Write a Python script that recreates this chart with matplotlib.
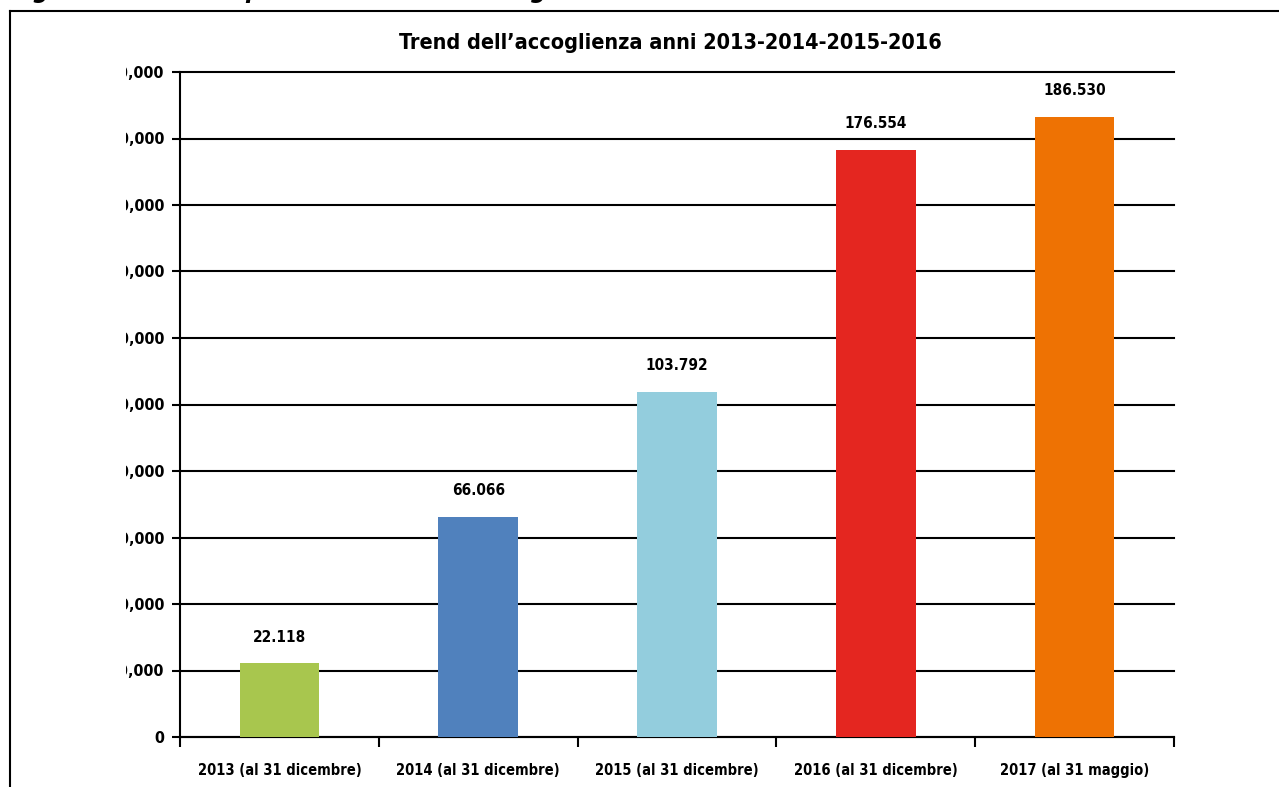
import matplotlib.pyplot as plt
from matplotlib.transforms import Bbox, TransformedBbox

plt.rcParams["font.family"] = ["DejaVu Sans"]
plt.rcParams["font.stretch"] = "condensed"
plt.rcParams["font.weight"] = "bold"

categories = ["2013 (al 31 dicembre)", "2014 (al 31 dicembre)", "2015 (al 31 dicembre)",
              "2016 (al 31 dicembre)", "2017 (al 31 maggio)"]
ospiti = [22118, 66066, 103792, 176554, 186530]
colori = ["#A8C64E", "#5081BD", "#93CDDD", "#E42620", "#EE7203"]
yticks = [0, 20000, 40000, 60000, 80000, 100000, 120000, 140000, 160000, 180000, 200000]

fig = plt.figure(figsize=(12.79, 7.87), dpi=100)
ax = fig.add_axes([180 / 1279, 1 - 737 / 787, 994 / 1279, 665 / 787])

# frame around the figure (only left and top edges visible)
fig.add_artist(plt.Line2D([10 / 1279, 10 / 1279], [0, 1 - 11 / 787], color="black", lw=1.5,
                          transform=fig.transFigure))
fig.add_artist(plt.Line2D([10 / 1279, 1], [1 - 11 / 787, 1 - 11 / 787], color="black", lw=1.5,
                          transform=fig.transFigure))

# caption, cut off by the top edge
fig.text(10 / 1279, 1 + 2 / 787, "Fig. 1 : Crescita ospiti del sistema d'accoglienza: confronto anni 2013-2017",
         fontsize=18, style="italic", weight="bold", va="baseline", ha="left")

x = list(range(len(categories)))
ax.bar(x, ospiti, width=0.4, color=colori, zorder=3)

for xi, v in zip(x, ospiti):
    ax.annotate(f"{v:,}".replace(",", "."), (xi, v), xytext=(0, 19), textcoords="offset points",
                ha="center", va="center", fontsize=11)

ax.set_xlim(-0.5, 4.5)
ax.set_ylim(0, 200000)
ax.set_yticks(yticks)
ax.set_yticklabels([f"{t:,}" for t in yticks], fontsize=11.5)
ax.grid(axis="y", color="black", lw=1.5, zorder=1)
for gl in ax.get_ygridlines():
    gl.set_clip_on(False)

ax.set_xticks([i - 0.5 for i in range(len(categories) + 1)])
ax.set_xticklabels([])
ax.set_xticks(x, minor=True)
ax.set_xticklabels(categories, minor=True, fontsize=10.5)
ax.tick_params(axis="x", which="major", length=7, width=1.5, direction="out")
ax.tick_params(axis="x", which="minor", length=0, pad=19)
ax.tick_params(axis="y", length=6, width=1.5, pad=5)

for s in ["top", "right"]:
    ax.spines[s].set_visible(False)
for s in ["left", "bottom"]:
    ax.spines[s].set_linewidth(1.5)

fig.text(670 / 1279, 1 - 43 / 787, "Trend dell\u2019accoglienza anni 2013-2014-2015-2016",
         fontsize=15.5, ha="center", va="center")

# y labels are clipped on their left side
clip = TransformedBbox(Bbox([[126 / 1279, 0], [1, 1]]), fig.transFigure)
for lab in ax.get_yticklabels():
    lab.set_clip_box(clip)
    lab.set_clip_on(True)

fig.savefig("out.png", dpi=100)
